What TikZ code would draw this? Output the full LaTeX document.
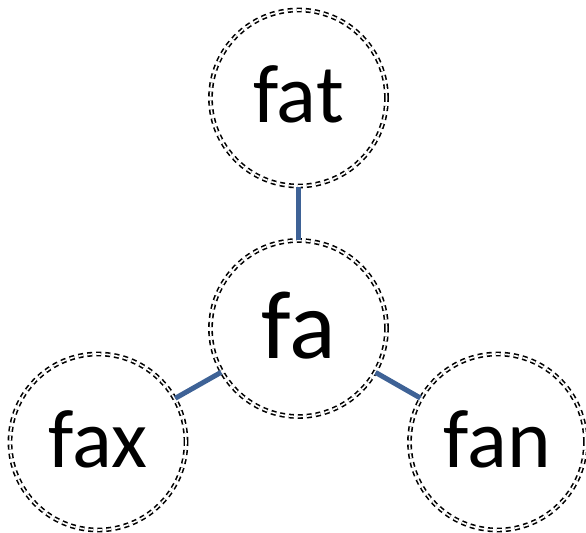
\documentclass[tikz,border=0pt]{standalone}
\usepackage{fontspec}
\setmainfont{Carlito}
\definecolor{linkblue}{RGB}{62,98,150}
\begin{document}
\begin{tikzpicture}[x=1bp,y=-1bp,
  word/.style={circle, minimum size=176bp, inner sep=0pt,
    draw=black, line width=1.6bp, double=white, double distance=1.6bp,
    dash pattern=on 5bp off 4bp, text height=50bp, text depth=0pt,
    font=\fontsize{83bp}{90bp}\selectfont},
  link/.style={draw=linkblue, line width=5bp}]
\useasboundingbox (0,0) rectangle (586,533);
\node[word] (fat) at (298.5,98) {fat};
\node[word, text height=59bp, font=\fontsize{97bp}{100bp}\selectfont] (fa) at (298.5,328.5) {fa};
\node[word] (fax) at (98,442) {fax};
\node[word] (fan) at (497.5,442) {fan};
\draw[link] (fat) -- (fa);
\draw[link] (fa) -- (fax);
\draw[link] (fa) -- (fan);
\end{tikzpicture}
\end{document}
